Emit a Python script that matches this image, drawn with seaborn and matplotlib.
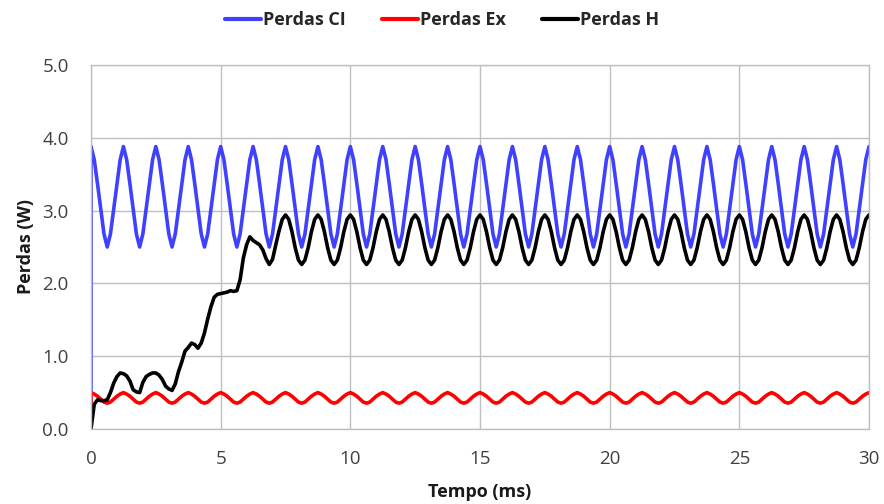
import numpy as np
import pandas as pd
import matplotlib
matplotlib.use("Agg")
import matplotlib.pyplot as plt
import seaborn as sns
from matplotlib.lines import Line2D

# sampling instants (ms), step 0.125 ms
tempo = [round(i * 0.125, 3) for i in range(241)]

perdas_ci = [3.88,
    3.70, 3.37, 3.02, 2.68, 2.50, 2.68, 3.02, 3.37, 3.70, 3.88,
    3.70, 3.37, 3.02, 2.68, 2.50, 2.68, 3.02, 3.37, 3.70, 3.88,
    3.70, 3.37, 3.02, 2.68, 2.50, 2.68, 3.02, 3.37, 3.70, 3.88,
    3.70, 3.37, 3.02, 2.68, 2.50, 2.68, 3.02, 3.37, 3.70, 3.88,
    3.70, 3.37, 3.02, 2.68, 2.50, 2.68, 3.02, 3.37, 3.70, 3.88,
    3.70, 3.37, 3.02, 2.68, 2.50, 2.68, 3.02, 3.37, 3.70, 3.88,
    3.70, 3.37, 3.02, 2.68, 2.50, 2.68, 3.02, 3.37, 3.70, 3.88,
    3.70, 3.37, 3.02, 2.68, 2.50, 2.68, 3.02, 3.37, 3.70, 3.88,
    3.70, 3.37, 3.02, 2.68, 2.50, 2.68, 3.02, 3.37, 3.70, 3.88,
    3.70, 3.37, 3.02, 2.68, 2.50, 2.68, 3.02, 3.37, 3.70, 3.88,
    3.70, 3.37, 3.02, 2.68, 2.50, 2.68, 3.02, 3.37, 3.70, 3.88,
    3.70, 3.37, 3.02, 2.68, 2.50, 2.68, 3.02, 3.37, 3.70, 3.88,
    3.70, 3.37, 3.02, 2.68, 2.50, 2.68, 3.02, 3.37, 3.70, 3.88,
    3.70, 3.37, 3.02, 2.68, 2.50, 2.68, 3.02, 3.37, 3.70, 3.88,
    3.70, 3.37, 3.02, 2.68, 2.50, 2.68, 3.02, 3.37, 3.70, 3.88,
    3.70, 3.37, 3.02, 2.68, 2.50, 2.68, 3.02, 3.37, 3.70, 3.88,
    3.70, 3.37, 3.02, 2.68, 2.50, 2.68, 3.02, 3.37, 3.70, 3.88,
    3.70, 3.37, 3.02, 2.68, 2.50, 2.68, 3.02, 3.37, 3.70, 3.88,
    3.70, 3.37, 3.02, 2.68, 2.50, 2.68, 3.02, 3.37, 3.70, 3.88,
    3.70, 3.37, 3.02, 2.68, 2.50, 2.68, 3.02, 3.37, 3.70, 3.88,
    3.70, 3.37, 3.02, 2.68, 2.50, 2.68, 3.02, 3.37, 3.70, 3.88,
    3.70, 3.37, 3.02, 2.68, 2.50, 2.68, 3.02, 3.37, 3.70, 3.88,
    3.70, 3.37, 3.02, 2.68, 2.50, 2.68, 3.02, 3.37, 3.70, 3.88,
    3.70, 3.37, 3.02, 2.68, 2.50, 2.68, 3.02, 3.37, 3.70, 3.88,
]

perdas_ex = [0.50,
    0.48, 0.45, 0.41, 0.37, 0.355, 0.37, 0.41, 0.45, 0.48, 0.50,
    0.48, 0.45, 0.41, 0.37, 0.355, 0.37, 0.41, 0.45, 0.48, 0.50,
    0.48, 0.45, 0.41, 0.37, 0.355, 0.37, 0.41, 0.45, 0.48, 0.50,
    0.48, 0.45, 0.41, 0.37, 0.355, 0.37, 0.41, 0.45, 0.48, 0.50,
    0.48, 0.45, 0.41, 0.37, 0.355, 0.37, 0.41, 0.45, 0.48, 0.50,
    0.48, 0.45, 0.41, 0.37, 0.355, 0.37, 0.41, 0.45, 0.48, 0.50,
    0.48, 0.45, 0.41, 0.37, 0.355, 0.37, 0.41, 0.45, 0.48, 0.50,
    0.48, 0.45, 0.41, 0.37, 0.355, 0.37, 0.41, 0.45, 0.48, 0.50,
    0.48, 0.45, 0.41, 0.37, 0.355, 0.37, 0.41, 0.45, 0.48, 0.50,
    0.48, 0.45, 0.41, 0.37, 0.355, 0.37, 0.41, 0.45, 0.48, 0.50,
    0.48, 0.45, 0.41, 0.37, 0.355, 0.37, 0.41, 0.45, 0.48, 0.50,
    0.48, 0.45, 0.41, 0.37, 0.355, 0.37, 0.41, 0.45, 0.48, 0.50,
    0.48, 0.45, 0.41, 0.37, 0.355, 0.37, 0.41, 0.45, 0.48, 0.50,
    0.48, 0.45, 0.41, 0.37, 0.355, 0.37, 0.41, 0.45, 0.48, 0.50,
    0.48, 0.45, 0.41, 0.37, 0.355, 0.37, 0.41, 0.45, 0.48, 0.50,
    0.48, 0.45, 0.41, 0.37, 0.355, 0.37, 0.41, 0.45, 0.48, 0.50,
    0.48, 0.45, 0.41, 0.37, 0.355, 0.37, 0.41, 0.45, 0.48, 0.50,
    0.48, 0.45, 0.41, 0.37, 0.355, 0.37, 0.41, 0.45, 0.48, 0.50,
    0.48, 0.45, 0.41, 0.37, 0.355, 0.37, 0.41, 0.45, 0.48, 0.50,
    0.48, 0.45, 0.41, 0.37, 0.355, 0.37, 0.41, 0.45, 0.48, 0.50,
    0.48, 0.45, 0.41, 0.37, 0.355, 0.37, 0.41, 0.45, 0.48, 0.50,
    0.48, 0.45, 0.41, 0.37, 0.355, 0.37, 0.41, 0.45, 0.48, 0.50,
    0.48, 0.45, 0.41, 0.37, 0.355, 0.37, 0.41, 0.45, 0.48, 0.50,
    0.48, 0.45, 0.41, 0.37, 0.355, 0.37, 0.41, 0.45, 0.48, 0.50,
]

perdas_h = [0.00,
    0.34, 0.40, 0.39, 0.39, 0.40, 0.50, 0.63, 0.72, 0.77, 0.76,
    0.73, 0.66, 0.54, 0.51, 0.50, 0.64, 0.72, 0.75, 0.77, 0.77,
    0.74, 0.68, 0.59, 0.55, 0.53, 0.62, 0.79, 0.92, 1.07, 1.12,
    1.18, 1.16, 1.11, 1.18, 1.32, 1.51, 1.68, 1.81, 1.85, 1.86,
    1.87, 1.88, 1.90, 1.89, 1.90, 2.05, 2.35, 2.53, 2.64, 2.59,
    2.56, 2.53, 2.46, 2.34, 2.26, 2.33, 2.53, 2.72, 2.88, 2.94,
    2.88, 2.71, 2.49, 2.32, 2.26, 2.32, 2.49, 2.71, 2.88, 2.94,
    2.88, 2.71, 2.49, 2.32, 2.26, 2.32, 2.49, 2.71, 2.88, 2.94,
    2.88, 2.71, 2.49, 2.32, 2.26, 2.32, 2.49, 2.71, 2.88, 2.94,
    2.88, 2.71, 2.49, 2.32, 2.26, 2.32, 2.49, 2.71, 2.88, 2.94,
    2.88, 2.71, 2.49, 2.32, 2.26, 2.32, 2.49, 2.71, 2.88, 2.94,
    2.88, 2.71, 2.49, 2.32, 2.26, 2.32, 2.49, 2.71, 2.88, 2.94,
    2.88, 2.71, 2.49, 2.32, 2.26, 2.32, 2.49, 2.71, 2.88, 2.94,
    2.88, 2.71, 2.49, 2.32, 2.26, 2.32, 2.49, 2.71, 2.88, 2.94,
    2.88, 2.71, 2.49, 2.32, 2.26, 2.32, 2.49, 2.71, 2.88, 2.94,
    2.88, 2.71, 2.49, 2.32, 2.26, 2.32, 2.49, 2.71, 2.88, 2.94,
    2.88, 2.71, 2.49, 2.32, 2.26, 2.32, 2.49, 2.71, 2.88, 2.94,
    2.88, 2.71, 2.49, 2.32, 2.26, 2.32, 2.49, 2.71, 2.88, 2.94,
    2.88, 2.71, 2.49, 2.32, 2.26, 2.32, 2.49, 2.71, 2.88, 2.94,
    2.88, 2.71, 2.49, 2.32, 2.26, 2.32, 2.49, 2.71, 2.88, 2.94,
    2.88, 2.71, 2.49, 2.32, 2.26, 2.32, 2.49, 2.71, 2.88, 2.94,
    2.88, 2.71, 2.49, 2.32, 2.26, 2.32, 2.49, 2.71, 2.88, 2.94,
    2.88, 2.71, 2.49, 2.32, 2.26, 2.32, 2.49, 2.71, 2.88, 2.94,
    2.88, 2.71, 2.49, 2.32, 2.26, 2.32, 2.49, 2.71, 2.88, 2.94,
]

series_names = ["Perdas CI", "Perdas Ex", "Perdas H"]
colors = ["#4040ff", "#ff0000", "#000000"]
x_ticks = [0, 5, 10, 15, 20, 25, 30]
y_ticks = [0.0, 1.0, 2.0, 3.0, 4.0, 5.0]

# long-form table; CI and Ex start with a vertical jump from 0 at t = 0
frames = []
for name, vals in zip(series_names, [perdas_ci, perdas_ex, perdas_h]):
    t = list(tempo)
    v = list(vals)
    if name != "Perdas H":
        t = [0.0] + t
        v = [0.0] + v
    frames.append(pd.DataFrame({"Tempo": t, "Perdas": v, "Serie": name}))
df = pd.concat(frames, ignore_index=True)

sns.set_theme(style="white")
plt.rcParams["font.family"] = ["Open Sans", "DejaVu Sans"]

fig = plt.figure(figsize=(8.84, 5.04), dpi=100)
ax = fig.add_axes([91 / 884, 1 - 429 / 504, (869 - 91) / 884, (429 - 65) / 504])

sns.lineplot(data=df, x="Tempo", y="Perdas", hue="Serie", hue_order=series_names,
             palette=colors, estimator=None, sort=False, linewidth=2.6, ax=ax,
             legend=False)

ax.set_xlim(0, 30)
ax.set_ylim(0, 5)
ax.set_xticks(x_ticks)
ax.set_yticks(y_ticks)
ax.set_xticklabels([str(v) for v in x_ticks])
ax.set_yticklabels([f"{v:.1f}" for v in y_ticks])
ax.grid(True, color="#bfbfbf", linewidth=1.0)
ax.set_axisbelow(True)
for s in ax.spines.values():
    s.set_color("#bfbfbf")
    s.set_linewidth(1.0)
ax.tick_params(axis="both", length=0, labelsize=13.5, colors="#404040")
ax.tick_params(axis="x", pad=15)
ax.tick_params(axis="y", pad=16)

ax.set_xlabel("Tempo (ms)", fontsize=13, fontweight="bold", color="#1a1a1a", labelpad=11)
ax.set_ylabel("Perdas (W)", fontsize=13, fontweight="bold", color="#1a1a1a", labelpad=5)

handles = [Line2D([0], [0], color=c, linewidth=3) for c in colors]
fig.legend(handles, series_names, loc="center", bbox_to_anchor=(0.5, 0.96),
           ncol=3, frameon=False, handlelength=2.0, handletextpad=0.1,
           columnspacing=2.0, prop={"weight": "bold", "size": 13})

fig.savefig("out.png", dpi=100)
